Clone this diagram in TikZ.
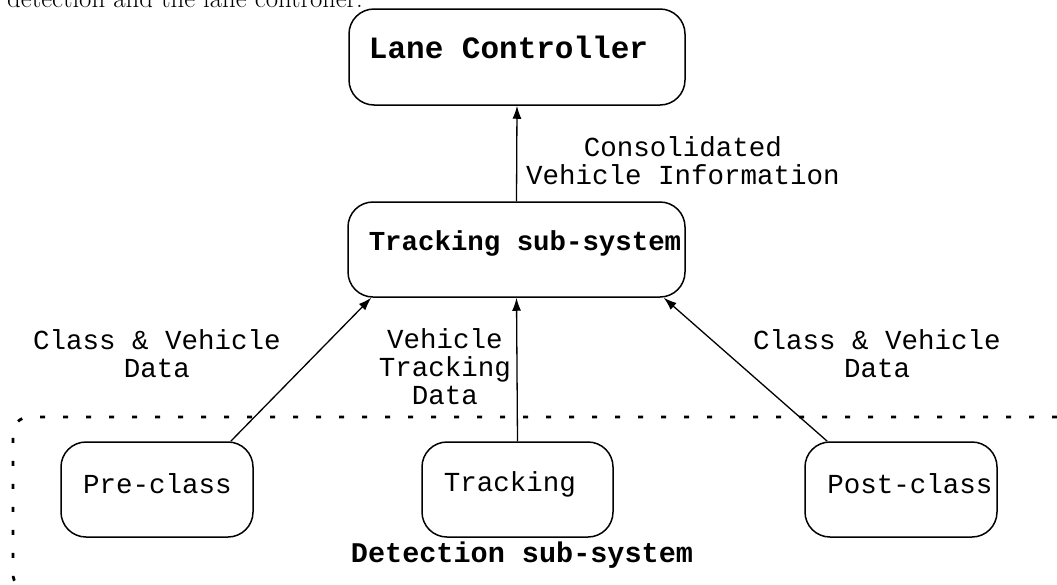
\documentclass[tikz,border=0pt]{standalone}
\usepackage{fontspec}
\newfontfamily\cour{Liberation Mono}
\usetikzlibrary{arrows.meta,calc}
\begin{document}
\begin{tikzpicture}[x=1pt,y=-1pt,
  box/.style={draw, line width=1.5pt, rounded corners=25pt, inner sep=0pt},
  lbl/.style={font=\cour\fontsize{27.5}{28}\selectfont, align=center, inner sep=0pt},
  blbl/.style={align=center, inner sep=0pt},
  conn/.style={line width=1.3pt, -{Latex[length=13pt,width=9pt]}},
  grp/.style={line width=2.8pt, dash pattern=on 5pt off 18pt, rounded corners=16pt}
]
\useasboundingbox (0,0) rectangle (1057,584);

% cut-off caption line at the top
\node[anchor=base west, inner sep=0pt, font=\fontsize{26.8}{30}\selectfont] (cap) at (7,7) {detection and the lane controller.};

% boxes
\node[box, minimum width=336pt, minimum height=96pt] (lane) at (517,57) {};
\node[box, minimum width=337pt, minimum height=95pt] (track) at (516.5,249.5) {};
\node[box, minimum width=192pt, minimum height=95pt] (pre) at (157,489.5) {};
\node[box, minimum width=191pt, minimum height=95pt] (trk) at (517.5,489.5) {};
\node[box, minimum width=192pt, minimum height=95pt] (post) at (901,489.5) {};

% box texts
\node[blbl, font=\cour\bfseries\fontsize{31}{32}\selectfont] (lanet) at (508.5,47) {Lane Controller};
\node[blbl, font=\cour\bfseries\fontsize{27.4}{29}\selectfont] (trackt) at (525,243) {Tracking sub-system};
\node[lbl] (pret) at (157.5,484) {Pre-class};
\node[lbl] (trkt) at (510,484) {Tracking};
\node[lbl] (postt) at (910,484) {Post-class};

% detection group
\draw[grp] (1080,417) -- (13,417) -- (13,590) -- (1080,590);
\node[blbl, font=\cour\bfseries\fontsize{28.5}{29}\selectfont] (dett) at (522,555) {Detection sub-system};

% connectors
\draw[conn] (track.north) -- (lane.south);
\draw[conn] ($(pre.north east)+(-23,0)$) -- ($(track.south west)+(24,0)$);
\draw[conn] (trk.north) -- (track.south);
\draw[conn] ($(post.north west)+(23,0)$) -- ($(track.south east)+(-22,0)$);

% connector labels
\node[lbl] (l1) at (683,161) {Consolidated\\Vehicle Information};
\node[lbl] (l2) at (157,353.5) {Class \& Vehicle\\Data};
\node[lbl] (l3) at (445,367) {Vehicle\\Tracking\\Data};
\node[lbl] (l4) at (877,353.5) {Class \& Vehicle\\Data};
\end{tikzpicture}
\end{document}
